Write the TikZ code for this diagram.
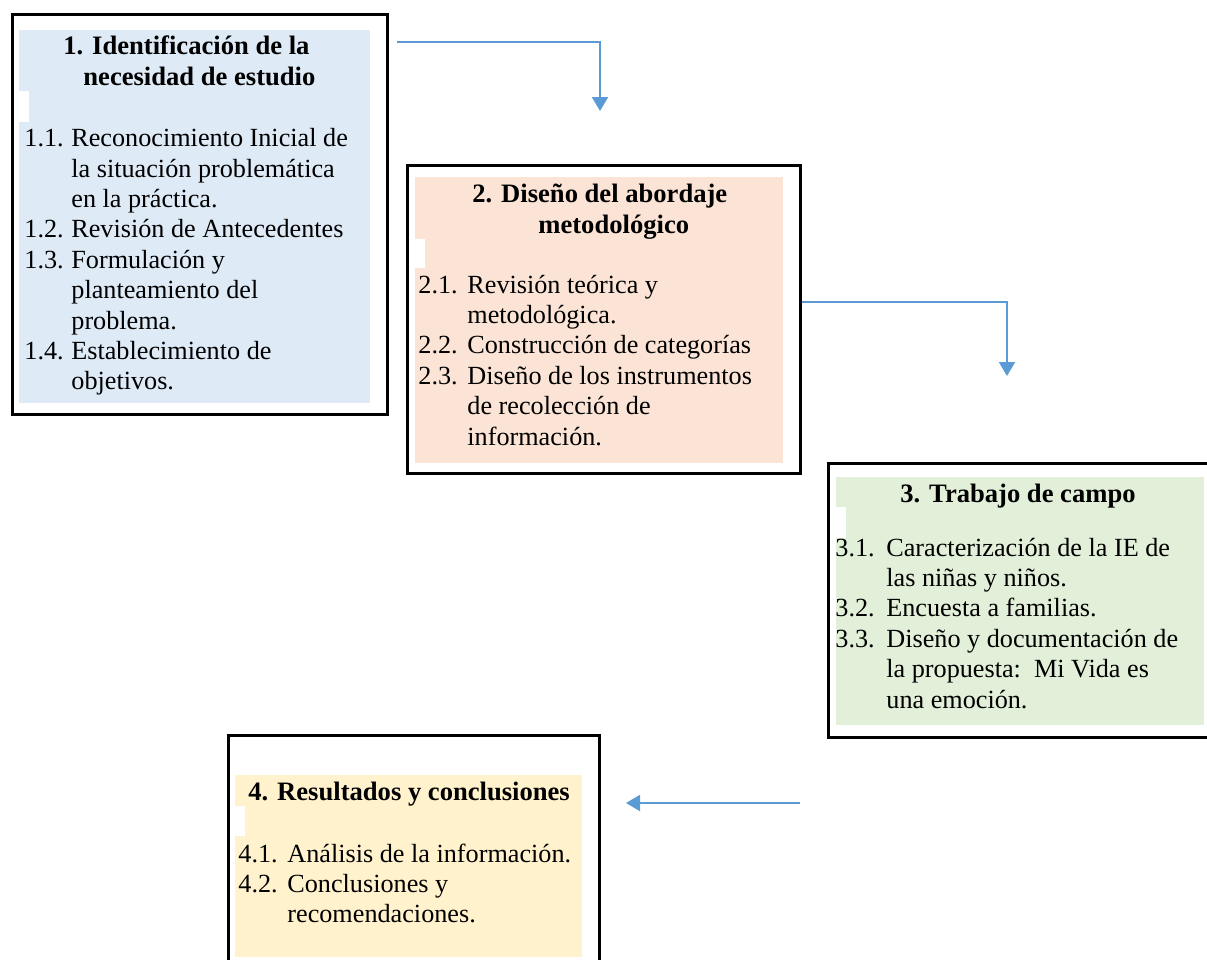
\documentclass[tikz,border=0pt]{standalone}
\usepackage{fontspec}
\setmainfont{Liberation Serif}
\usetikzlibrary{arrows.meta,fit}

\definecolor{fillone}{HTML}{DEEAF6}
\definecolor{filltwo}{HTML}{FBE4D5}
\definecolor{fillthree}{HTML}{E2EFD9}
\definecolor{fillfour}{HTML}{FFF2CC}
\definecolor{flowblue}{HTML}{5B9BD5}

\newcommand\bodyfont{\fontsize{13.1}{15.2}\selectfont}
\newcommand\headfont{\fontsize{13.3}{15.5}\selectfont\bfseries}

\begin{document}
\begin{tikzpicture}
[x=0.5pt,y=-0.5pt,%
  frame/.style={draw,line width=1.5pt,inner sep=0pt},%
  notch/.style={fill=white},%
  head/.style={anchor=base west,inner sep=0pt,font=\headfont},%
  items/.style={anchor=base west,inner sep=0pt,font=\bodyfont},%
  flow/.style={draw=flowblue,line width=1pt,-{Triangle[width=8pt,length=7pt]}}]
\useasboundingbox (0,0) rectangle (1207,960);
\clip (0,0) rectangle (1207,960);
\fill[fillone] (19,30) rectangle (370,403);
\fill[filltwo] (415,177) rectangle (783,463);
\fill[fillthree] (836,477) rectangle (1204,725);
\fill[fillfour] (235,775) rectangle (582,957);
\fill[notch] (19,91) rectangle (29,122);
\fill[notch] (415,239) rectangle (425,268);
\fill[notch] (836,507) rectangle (846,538);
\fill[notch] (235,806) rectangle (245,836);
\node[frame,fit={(12,14) (387,414)}] (b1) {};
\node[frame,fit={(407,165) (800,473)}] (b2) {};
\node[frame,fit={(828,463) (1214,737)}] (b3) {};
\node[frame,fit={(228,735) (599,975)}] (b4) {};
\node[head] (t1) at (63,54) {\begin{tabular}[t]{@{}l@{}}
  1. Identificación de la\\
  \hspace*{10pt}necesidad de estudio
\end{tabular}};
\node[items] (i1) at (24,146.7) {\begin{tabular}[t]{@{}p{23.5pt}@{}l@{}}
  1.1. & Reconocimiento Inicial de\\
       & la situación problemática\\
       & en la práctica.\\
  1.2. & Revisión de Antecedentes\\
  1.3. & Formulación y\\
       & planteamiento del\\
       & problema.\\
  1.4. & Establecimiento de\\
       & objetivos.
\end{tabular}};
\node[head] (t2) at (472,202) {\begin{tabular}[t]{@{}l@{}}
  2. Diseño del abordaje\\
  \hspace*{33pt}metodológico
\end{tabular}};
\node[items] (i2) at (418,293) {\begin{tabular}[t]{@{}p{24.5pt}@{}l@{}}
  2.1. & Revisión teórica y\\
       & metodológica.\\
  2.2. & Construcción de categorías\\
  2.3. & Diseño de los instrumentos\\
       & de recolección de\\
       & información.
\end{tabular}};
\node[head] (t3) at (900,502) {3. Trabajo de campo};
\node[items] (i3) at (835,556) {\begin{tabular}[t]{@{}p{25.5pt}@{}l@{}}
  3.1. & Caracterización de la IE de\\
       & las niñas y niños.\\
  3.2. & Encuesta a familias.\\
  3.3. & Diseño y documentación de\\
       & la propuesta:\ \ Mi Vida es\\
       & una emoción.
\end{tabular}};
\node[head] (t4) at (248,800) {4. Resultados y conclusiones};
\node[items] (i4) at (238,862) {\begin{tabular}[t]{@{}p{24.5pt}@{}l@{}}
  4.1. & Análisis de la información.\\
  4.2. & Conclusiones y\\
       & recomendaciones.
\end{tabular}};
\coordinate (a1) at (397,42);
\coordinate (a1end) at (600,111);
\coordinate (a2) at (802,302);
\coordinate (a2end) at (1007,376);
\coordinate (a3) at (800,803);
\coordinate (a3end) at (626,803);
\draw[flow] (a1) -| (a1end);
\draw[flow] (a2) -| (a2end);
\draw[flow] (a3) -- (a3end);
\end{tikzpicture}
\end{document}
